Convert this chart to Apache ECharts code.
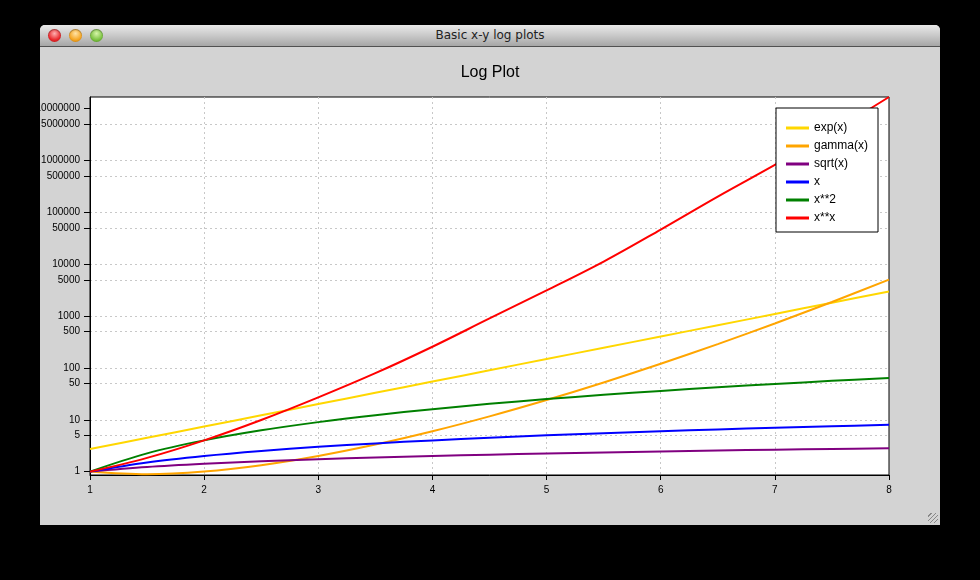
<!DOCTYPE html>
<html>
<head>
<meta charset="utf-8">
<title>Basic x-y log plots</title>
<script src="https://cdn.jsdelivr.net/npm/echarts@6/dist/echarts.min.js"></script>
<style>
  html, body { margin:0; padding:0; background:#000; width:980px; height:580px; overflow:hidden; }
  .win { position:absolute; left:40px; top:25px; width:900px; height:500px; background:#d3d3d3; border-radius:5px 5px 0 0; overflow:hidden; }
  .bar { position:absolute; left:0; top:0; width:900px; height:21px; border-bottom:1px solid #515151;
         background:linear-gradient(#e9e9e9, #c9c9c9 50%, #a6a6a6); }
  .bar .t { position:absolute; left:0; width:900px; top:3px; text-align:center; font:12px "DejaVu Sans", sans-serif; color:#222; }
  .dot { position:absolute; top:4px; width:13px; height:13px; border-radius:50%; box-shadow:0 1px 1px rgba(0,0,0,.35) inset; }
  .grip { position:absolute; right:2px; bottom:2px; width:10px; height:10px;
          background:repeating-linear-gradient(135deg, transparent 0 2px, #888 2px 3px); }
  #chart { position:absolute; left:0; top:22px; width:900px; height:478px; }
</style>
</head>
<body>
<div class="win">
  <div class="bar">
    <div class="dot" style="left:8px;background:radial-gradient(circle at 50% 35%, #ffb0b0, #e8282c 60%, #a30f12);"></div>
    <div class="dot" style="left:29px;background:radial-gradient(circle at 50% 35%, #ffe3a6, #f5a623 60%, #b36b00);"></div>
    <div class="dot" style="left:50px;background:radial-gradient(circle at 50% 35%, #d6f5a8, #7cc242 60%, #3f7e12);"></div>
    <div class="t">Basic x-y log plots</div>
  </div>
  <div id="chart"></div>
  <div class="grip"></div>
</div>
<script>
// values, x = 1 .. 8 in steps of 0.5
var xs = [1, 1.5, 2, 2.5, 3, 3.5, 4, 4.5, 5, 5.5, 6, 6.5, 7, 7.5, 8];
var expX   = [2.718, 4.482, 7.389, 12.18, 20.09, 33.12, 54.60, 90.02, 148.4, 244.7, 403.4, 665.1, 1096.6, 1808, 2981];
var gammaX = [1, 0.886, 1, 1.329, 2, 3.323, 6, 11.63, 24, 52.34, 120, 287.9, 720, 1871, 5040];
var sqrtX  = [1, 1.225, 1.414, 1.581, 1.732, 1.871, 2, 2.121, 2.236, 2.345, 2.449, 2.550, 2.646, 2.739, 2.828];
var lineX  = [1, 1.5, 2, 2.5, 3, 3.5, 4, 4.5, 5, 5.5, 6, 6.5, 7, 7.5, 8];
var sqX    = [1, 2.25, 4, 6.25, 9, 12.25, 16, 20.25, 25, 30.25, 36, 42.25, 49, 56.25, 64];
var powX   = [1, 1.837, 4, 9.882, 27, 79.06, 256, 898, 3125, 11259, 46656, 201743, 823543, 3550000, 16777216];
var yTicks = [1, 5, 10, 50, 100, 500, 1000, 5000, 10000, 50000, 100000, 500000, 1000000, 5000000, 10000000];

var names  = ['exp(x)', 'gamma(x)', 'sqrt(x)', 'x', 'x**2', 'x**x'];
var colors = ['#ffd700', '#ffa500', '#800080', '#0000ff', '#008000', '#ff0000'];
var values = [expX, gammaX, sqrtX, lineX, sqX, powX];

function pairs(ys) {
    var out = [];
    for (var i = 0; i < xs.length; i++) out.push([xs[i], ys[i]]);
    return out;
}

var series = [];
for (var k = 0; k < names.length; k++) {
    series.push({
        name: names[k],
        type: 'line',
        smooth: 0.35,
        showSymbol: false,
        clip: true,
        lineStyle: { width: 2, color: colors[k] },
        itemStyle: { color: colors[k] },
        data: pairs(values[k])
    });
}

var gridLine = { show: true, showMinLine: false, showMaxLine: false,
                 lineStyle: { color: '#c8c8c8', type: [2, 3], width: 1 } };

var chart = echarts.init(document.getElementById('chart'));
chart.setOption({
    animation: false,
    textStyle: { fontFamily: 'Liberation Sans, Arial, sans-serif' },
    title: {
        text: 'Log Plot', left: 'center', top: 13,
        textStyle: { fontSize: 16, fontWeight: 'normal', color: '#000', fontFamily: 'Liberation Sans' }
    },
    legend: {
        orient: 'vertical', left: 736, top: 61,
        padding: [14, 10, 8, 10],
        itemGap: 6, itemWidth: 23, itemHeight: 3,
        icon: 'rect',
        backgroundColor: '#fff', borderColor: '#000', borderWidth: 1,
        textStyle: { fontSize: 12, color: '#000', fontFamily: 'Liberation Sans' },
        data: names
    },
    grid: {
        left: 50, top: 50, width: 799, height: 378,
        containLabel: false, outerBoundsMode: 'none',
        show: true, borderColor: '#000', borderWidth: 1, backgroundColor: '#fff'
    },
    xAxis: {
        type: 'value', min: 1, max: 8, interval: 1,
        axisLine: { lineStyle: { color: '#000', width: 1 } },
        axisTick: { length: 5, lineStyle: { color: '#000' } },
        axisLabel: { margin: 10, fontSize: 10, color: '#000' },
        splitLine: gridLine
    },
    yAxis: {
        type: 'log', logBase: 10, min: 0.86, max: 16777216,
        axisLine: { show: true, lineStyle: { color: '#000', width: 1 } },
        axisTick: { show: true, length: 6, customValues: yTicks, lineStyle: { color: '#000' } },
        axisLabel: {
            margin: 10, fontSize: 10, color: '#000', customValues: yTicks,
            formatter: function (v) { return String(Math.round(v)); }
        },
        splitLine: gridLine
    },
    series: series
});
</script>
</body>
</html>
